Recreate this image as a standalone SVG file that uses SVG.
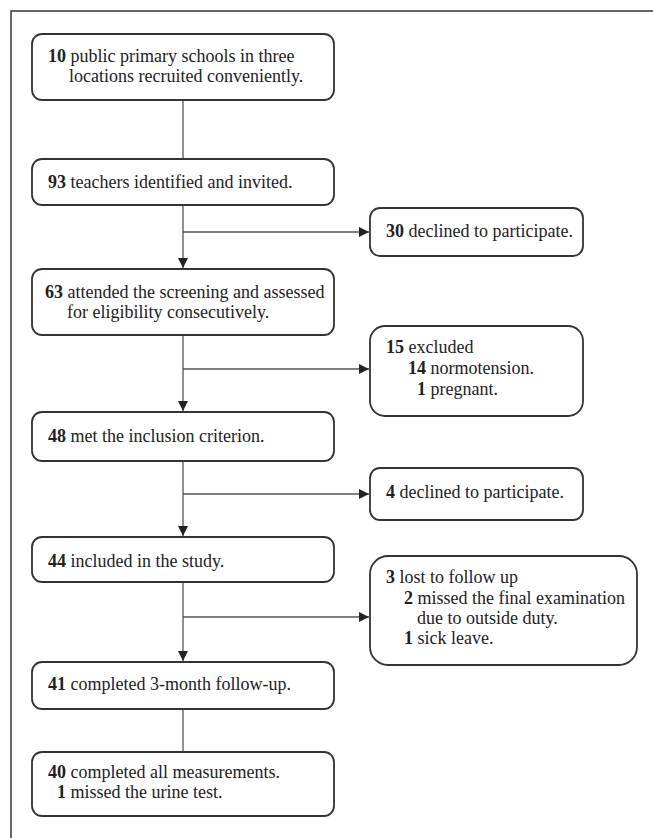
<svg xmlns="http://www.w3.org/2000/svg" width="653" height="838" viewBox="0 0 653 838">
<style>
.box{fill:#fff;stroke:#333;stroke-width:1.8}
.ln{stroke:#555;stroke-width:1.3;fill:none}
text{font-family:"Liberation Serif","Times New Roman",serif;font-size:18px;fill:#222}
.b{font-weight:bold}
</style>
<defs>
<marker id="ah" viewBox="0 0 10 10" refX="10" refY="5" markerWidth="10" markerHeight="10" markerUnits="userSpaceOnUse" orient="auto">
<path d="M0,0 L10,5 L0,10 Z" fill="#222"/>
</marker>
</defs>
<rect width="653" height="838" fill="#fff"/>
<path d="M11,838 V11 H653" fill="none" stroke="#333" stroke-width="1.5"/>
<g id="connectors">
<line class="ln" x1="183" y1="100" x2="183" y2="159"/>
<line class="ln" x1="183" y1="205" x2="183" y2="268" marker-end="url(#ah)"/>
<line class="ln" x1="183" y1="232" x2="369" y2="232" marker-end="url(#ah)"/>
<line class="ln" x1="183" y1="335" x2="183" y2="411" marker-end="url(#ah)"/>
<line class="ln" x1="183" y1="369" x2="369" y2="369" marker-end="url(#ah)"/>
<line class="ln" x1="183" y1="461" x2="183" y2="536" marker-end="url(#ah)"/>
<line class="ln" x1="183" y1="494" x2="369" y2="494" marker-end="url(#ah)"/>
<line class="ln" x1="183" y1="582" x2="183" y2="661" marker-end="url(#ah)"/>
<line class="ln" x1="183" y1="617" x2="369" y2="617" marker-end="url(#ah)"/>
<line class="ln" x1="183" y1="709" x2="183" y2="752"/>
</g>
<g id="n1">
<rect class="box" x="32" y="34" width="302" height="66" rx="10"/>
<text x="48" y="62"><tspan class="b">10</tspan> public primary schools in three</text>
<text x="69" y="82">locations recruited conveniently.</text>
</g>
<g id="n2">
<rect class="box" x="32" y="159" width="302" height="46" rx="10"/>
<text x="48" y="188"><tspan class="b">93</tspan> teachers identified and invited.</text>
</g>
<g id="n3">
<rect class="box" x="32" y="269" width="302" height="66" rx="10"/>
<text x="45" y="298"><tspan class="b">63</tspan> attended the screening and assessed</text>
<text x="67" y="318">for eligibility consecutively.</text>
</g>
<g id="n4">
<rect class="box" x="32" y="412" width="302" height="49" rx="10"/>
<text x="48" y="442"><tspan class="b">48</tspan> met the inclusion criterion.</text>
</g>
<g id="n5">
<rect class="box" x="32" y="537" width="302" height="45" rx="10"/>
<text x="48" y="567"><tspan class="b">44</tspan> included in the study.</text>
</g>
<g id="n6">
<rect class="box" x="32" y="662" width="302" height="47" rx="10"/>
<text x="48" y="690"><tspan class="b">41</tspan> completed 3-month follow-up.</text>
</g>
<g id="n7">
<rect class="box" x="32" y="752" width="302" height="64" rx="10"/>
<text x="48" y="778"><tspan class="b">40</tspan> completed all measurements.</text>
<text x="57" y="798"><tspan class="b">1</tspan> missed the urine test.</text>
</g>
<g id="r1">
<rect class="box" x="370" y="208" width="213" height="48" rx="10"/>
<text x="386" y="237"><tspan class="b">30</tspan> declined to participate.</text>
</g>
<g id="r2">
<rect class="box" x="370" y="326" width="213" height="90" rx="15"/>
<text x="386" y="353"><tspan class="b">15</tspan> excluded</text>
<text x="408" y="374"><tspan class="b">14</tspan> normotension.</text>
<text x="417" y="395"><tspan class="b">1</tspan> pregnant.</text>
</g>
<g id="r3">
<rect class="box" x="370" y="468" width="213" height="52" rx="10"/>
<text x="386" y="498"><tspan class="b">4</tspan> declined to participate.</text>
</g>
<g id="r4">
<rect class="box" x="370" y="556" width="267" height="109" rx="18"/>
<text x="386" y="583"><tspan class="b">3</tspan> lost to follow up</text>
<text x="404" y="604"><tspan class="b">2</tspan> missed the final examination</text>
<text x="417" y="624">due to outside duty.</text>
<text x="404" y="644"><tspan class="b">1</tspan> sick leave.</text>
</g>
</svg>
